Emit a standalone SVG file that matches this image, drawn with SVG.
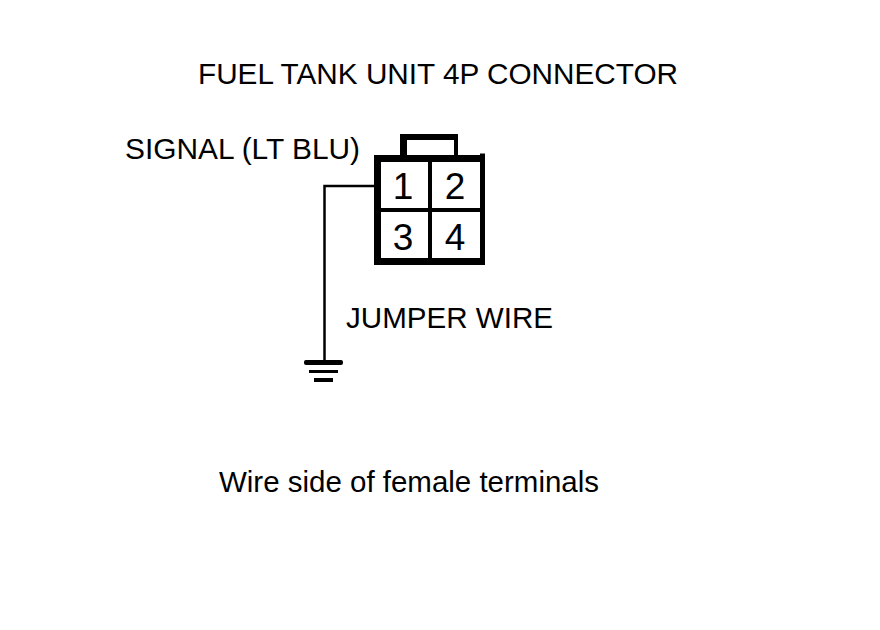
<svg xmlns="http://www.w3.org/2000/svg" width="880" height="630" viewBox="0 0 880 630">
<style>
text{font-family:"Liberation Sans",Arial,sans-serif;fill:#000;font-size:29.7px}
.n{font-size:37px;text-anchor:middle}
.k{fill:#000;stroke:none}
.w{fill:none;stroke:#000;stroke-width:2.5}
</style>
<rect width="880" height="630" fill="#fff"/>
<text id="title" x="198" y="83.500" textLength="480" lengthAdjust="spacingAndGlyphs">FUEL TANK UNIT 4P CONNECTOR</text>
<text id="signal" x="125" y="158.500" textLength="235" lengthAdjust="spacingAndGlyphs">SIGNAL (LT BLU)</text>
<text id="jumper" x="346" y="328" textLength="207" lengthAdjust="spacingAndGlyphs">JUMPER WIRE</text>
<text id="caption" x="219" y="492" textLength="380" lengthAdjust="spacingAndGlyphs">Wire side of female terminals</text>
<g id="connector">
<path class="k" fill-rule="evenodd" d="M374 155H400V134H458V155H480V153.500H485V265H374ZM407 140V155H454V140ZM381 162V208H428V162ZM432 162V208H480V162ZM381 212V258H428V212ZM432 212V258H480V212Z"/>
<text class="n" x="403" y="198.500">1</text>
<text class="n" x="455" y="198.500">2</text>
<text class="n" x="403" y="250">3</text>
<text class="n" x="455" y="250">4</text>
</g>
<g id="connectors">
<path class="w" d="M375 186H324.500V362"/>
</g>
<g id="ground">
<rect class="k" x="304" y="360" width="39" height="5" rx="2"/>
<rect class="k" x="309" y="370" width="29" height="3"/>
<rect class="k" x="314" y="378" width="19" height="4"/>
</g>
</svg>
